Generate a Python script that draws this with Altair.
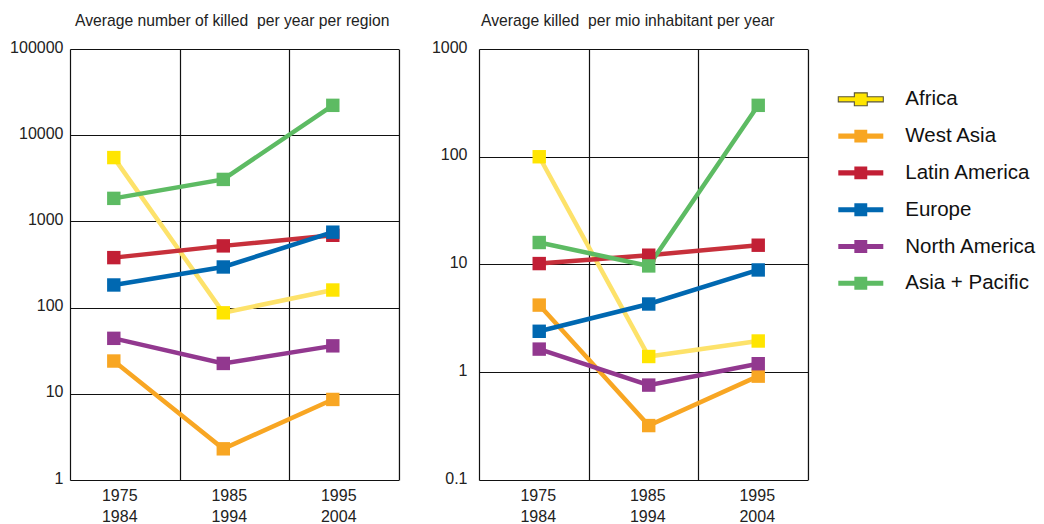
import altair as alt
import pandas as pd

periods = ["1975-1984", "1985-1994", "1995-2004"]
regions = ["Africa", "West Asia", "Latin America", "Europe", "North America", "Asia + Pacific"]

# average number of people killed per year, per region
killed_africa = [5500, 87, 160]
killed_west_asia = [24, 2.3, 8.6]
killed_latin_america = [380, 520, 690]
killed_europe = [183, 296, 750]
killed_north_america = [44, 22.5, 36]
killed_asia_pacific = [1850, 3070, 22200]

# average killed per million inhabitants per year
rate_africa = [100, 1.4, 1.95]
rate_west_asia = [4.2, 0.32, 0.92]
rate_latin_america = [10.2, 12.2, 15.1]
rate_europe = [2.4, 4.3, 8.9]
rate_north_america = [1.64, 0.76, 1.2]
rate_asia_pacific = [16, 9.7, 300]

killed_ticks = [1, 10, 100, 1000, 10000, 100000]
rate_ticks = [0.1, 1, 10, 100, 1000]

marker_colors = ["#FFE500", "#F8A623", "#C21F35", "#0068B1", "#92388F", "#5DBB63"]
line_colors = ["#FDE26A", "#F8A623", "#C7303B", "#0068B1", "#92388F", "#5DBB63"]

FONT = "Liberation Sans"

# key glyph: a short thick line with a square in the middle
KEY_GLYPH = "M-1.5,-0.17H-0.43V-0.43H0.43V-0.17H1.5V0.17H0.43V0.43H-0.43V0.17H-1.5Z"

PLOT_W = 328.5
PLOT_H = 431


def long_table(series):
    rows = []
    for region, vals in zip(regions, series):
        for period, v in zip(periods, vals):
            rows.append({"region": region, "period": period, "value": v})
    return pd.DataFrame(rows)


killed = long_table([killed_africa, killed_west_asia, killed_latin_america,
                     killed_europe, killed_north_america, killed_asia_pacific])
rate = long_table([rate_africa, rate_west_asia, rate_latin_america,
                   rate_europe, rate_north_america, rate_asia_pacific])
keys = pd.DataFrame({"region": regions})

fill_scale = alt.Scale(domain=regions, range=marker_colors)
stroke_scale = alt.Scale(domain=regions, range=line_colors)


def panel(df, ticks, title, dx, band_pos, x_label_offset, y_label_pad, y_extent):
    x = alt.X(
        "period:N",
        sort=periods,
        bandPosition=band_pos,
        scale=alt.Scale(type="band", paddingInner=0, paddingOuter=0),
        axis=alt.Axis(
            title=None,
            ticks=False,
            domain=False,
            grid=True,
            tickBand="extent",
            gridColor="#111",
            gridWidth=1.2,
            gridOpacity=1,
            labelExpr="split(datum.label, '-')",
            labelFont=FONT,
            labelFontSize=16,
            labelLineHeight=21,
            labelColor="#222",
            labelPadding=7,
            labelAngle=0,
            labelOffset=x_label_offset,
        ),
    )
    y = alt.Y(
        "value:Q",
        scale=alt.Scale(type="log", domain=[ticks[0], ticks[-1]], nice=False),
        axis=alt.Axis(
            title=None,
            values=ticks,
            format="~g",
            ticks=False,
            domain=False,
            grid=True,
            gridColor="#111",
            gridWidth=1.2,
            gridOpacity=1,
            labelFont=FONT,
            labelFontSize=16,
            labelColor="#222",
            labelPadding=y_label_pad,
            labelOffset=-2,
            labelOverlap=False,
            minExtent=y_extent,
            maxExtent=y_extent,
        ),
    )
    lines = alt.Chart(df).mark_line(strokeWidth=4.5).encode(
        x=x,
        y=y,
        stroke=alt.Stroke("region:N", scale=stroke_scale, legend=None),
        detail="region:N",
    )
    squares = alt.Chart(df).mark_square(size=180, opacity=1).encode(
        x=x,
        y=y,
        fill=alt.Fill("region:N", scale=fill_scale, legend=None),
    )
    title_params = alt.TitleParams(
        title,
        anchor="start",
        frame="group",
        dx=dx,
        baseline="alphabetic",
        offset=-3,
        font=FONT,
        fontSize=15.7,
        fontWeight="normal",
        color="#222",
    )
    return alt.layer(lines, squares), title_params


# left panel: absolute numbers
left_layers, left_title = panel(
    killed, killed_ticks, "Average number of killed\u00a0 per year per region",
    5, 0.4, -5.5, 7, 69)
left = left_layers.properties(width=PLOT_W, height=PLOT_H, title=left_title)

# right panel: per million inhabitants, with the key drawn to its right
right_layers, right_title = panel(
    rate, rate_ticks, "Average killed\u00a0 per mio inhabitant per year",
    2, 0.55, 4, 12, 47)

key_y = alt.Y("region:N", sort=regions, axis=None,
              scale=alt.Scale(type="point", domain=regions, range=[50.3, 234.3], padding=0))
key_glyphs = alt.Chart(keys).mark_point(
    shape=KEY_GLYPH, size=900, filled=True, opacity=1, strokeWidth=1.1
).encode(
    x=alt.value(381.8),
    y=key_y,
    fill=alt.Fill("region:N", scale=fill_scale, legend=None),
    stroke=alt.condition(alt.datum.region == "Africa", alt.value("#5a5538"), alt.value("transparent")),
)
key_labels = alt.Chart(keys).mark_text(
    align="left", baseline="middle", font=FONT, fontSize=20.5, color="#111"
).encode(
    x=alt.value(426.3),
    y=key_y,
    text="region:N",
)

right = (
    alt.layer(right_layers, key_glyphs, key_labels)
    .resolve_scale(y="independent")
    .properties(width=PLOT_W, height=PLOT_H, title=right_title)
)

chart = (
    alt.hconcat(left, right, spacing=31)
    .resolve_scale(fill="shared", stroke="shared")
    .properties(padding={"left": 0, "top": 12, "right": 0, "bottom": 0})
    .configure_view(stroke="#1a1a1a", strokeWidth=2.5)
    .configure(background="white")
)

chart.save("out.html", embed_options={"renderer": "svg", "actions": False})
